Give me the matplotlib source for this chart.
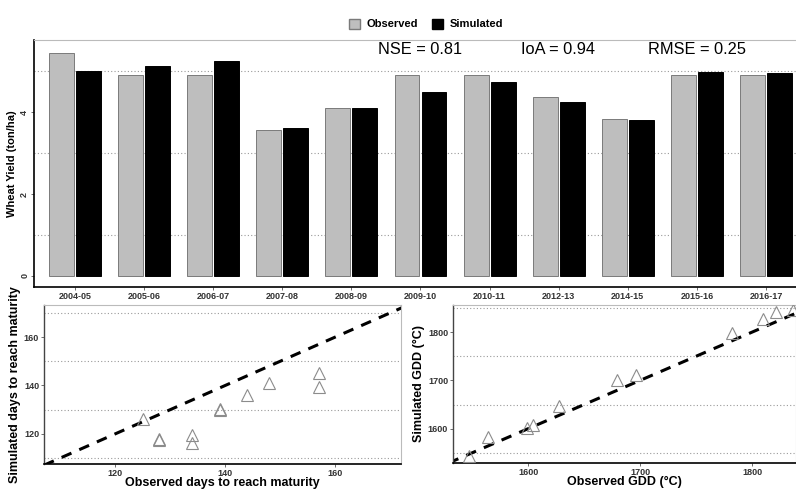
import matplotlib.pyplot as plt
import numpy as np
from matplotlib.patches import Patch

plt.rcParams['font.family'] = ['Liberation Sans', 'DejaVu Sans']

# Wheat yield per season (ton/ha)
seasons = ['2004-05', '2005-06', '2006-07', '2007-08', '2008-09', '2009-10',
           '2010-11', '2012-13', '2014-15', '2015-16', '2016-17']
obs_yield = [5.45, 4.90, 4.90, 3.56, 4.10, 4.90, 4.90, 4.37, 3.83, 4.90, 4.90]
sim_yield = [5.00, 5.12, 5.24, 3.61, 4.10, 4.49, 4.73, 4.24, 3.80, 4.98, 4.95]

# Days to maturity
obs_days = [125, 128, 128, 134, 134, 139, 139, 144, 148, 157, 157]
sim_days = [126, 118, 117.5, 119.5, 116, 130, 130.3, 136, 141, 145, 139.5]

# Growing degree days
obs_gdd = [1547, 1564, 1599, 1604, 1628, 1679, 1696, 1782, 1810, 1821, 1836]
sim_gdd = [1544, 1583, 1601, 1608, 1647, 1701, 1711, 1798, 1827, 1842, 1846]

stats = ['NSE = 0.81', 'IoA = 0.94', 'RMSE = 0.25']

grid_kw = dict(color='#9A9A9A', linestyle=(0, (1, 2)), linewidth=0.8, zorder=1)
tick_font = dict(fontsize=6.5, fontweight='bold', color='#333333')

fig = plt.figure(figsize=(7.96, 4.9), dpi=100)

# ---- bar chart ----
ax = fig.add_axes([0.0427, 0.4143, 0.9573, 0.5041])
x = np.arange(len(seasons))
w = 0.36
ax.bar(x - 0.195, obs_yield, w, color='#BEBEBE', edgecolor='#7A7A7A', linewidth=0.7, zorder=3)
ax.bar(x + 0.195, sim_yield, w, color='black', edgecolor='black', linewidth=0.7, zorder=3)
for g in [1, 3, 5]:
    ax.axhline(g, **grid_kw)
ax.set_xlim(-0.593, 10.434)
ax.set_ylim(-0.27, 5.76)
ax.set_xticks(x)
ax.set_xticklabels(seasons, **tick_font)
ax.set_yticks([0, 2, 4])
ax.set_yticklabels(['0', '2', '4'], rotation=90, va='center', **tick_font)
ax.tick_params(axis='both', length=2, width=0.6, pad=1.5, color='#555555')
ax.spines['left'].set_linewidth(1.2)
ax.spines['bottom'].set_linewidth(1.2)
ax.spines['top'].set_color('#BBBBBB')
ax.spines['right'].set_visible(False)
ax.set_ylabel('Wheat Yield (ton/ha)', fontsize=8, fontweight='bold', labelpad=2)

for txt, xc in zip(stats, [420, 558, 697]):
    fig.text(xc / 796, 1 - 49 / 490, txt, ha='center', va='center', fontsize=11.8)

handles = [Patch(facecolor='#BEBEBE', edgecolor='#7A7A7A', label='Observed'),
           Patch(facecolor='black', edgecolor='black', label='Simulated')]
fig.legend(handles=handles, loc='center', bbox_to_anchor=(0.535, 0.951), ncol=2,
           frameon=False, prop=dict(weight='bold', size=8),
           handlelength=1.0, handleheight=1.0, columnspacing=1.2, handletextpad=0.6)


def scatter_panel(rect, obs, sim, lims, ticks, minor, xlabel, ylabel):
    a = fig.add_axes(rect)
    (x0, x1), (y0, y1) = lims
    for g in minor:
        a.axhline(g, **grid_kw)
    lo, hi = min(x0, y0), max(x1, y1)
    a.plot([lo, hi], [lo, hi], color='black', linestyle=(0, (3.5, 2.8)),
           linewidth=2.2, zorder=2)
    a.plot(obs, sim, linestyle='none', marker='^', markersize=8.5,
           markerfacecolor='none', markeredgecolor='#8C8C8C', markeredgewidth=0.8,
           zorder=3)
    a.set_xlim(x0, x1)
    a.set_ylim(y0, y1)
    a.set_xticks(ticks)
    a.set_yticks(ticks)
    a.set_xticklabels([str(t) for t in ticks], **tick_font)
    a.set_yticklabels([str(t) for t in ticks], **tick_font)
    a.tick_params(axis='both', length=2, width=0.6, pad=1.5, color='#555555')
    a.spines['left'].set_color('#444444')
    a.spines['left'].set_linewidth(1.0)
    a.spines['bottom'].set_linewidth(1.2)
    a.spines['top'].set_color('#BBBBBB')
    a.spines['right'].set_color('#BBBBBB')
    a.set_xlabel(xlabel, fontsize=9, fontweight='bold', labelpad=-0.5)
    a.set_ylabel(ylabel, fontsize=9, fontweight='bold', labelpad=2)
    return a


scatter_panel([0.0553, 0.0531, 0.4485, 0.3245], obs_days, sim_days,
              ((107, 172), (107.5, 173.3)), [120, 140, 160], [110, 130, 150, 170],
              'Observed days to reach maturity', 'Simulated days to reach maturity')

scatter_panel([0.5691, 0.0551, 0.4309, 0.3225], obs_gdd, sim_gdd,
              ((1533, 1839), (1529, 1856)), [1600, 1700, 1800], [1550, 1650, 1750, 1850],
              'Observed GDD (°C)', 'Simulated GDD (°C)')

fig.savefig('out.png', dpi=100)
